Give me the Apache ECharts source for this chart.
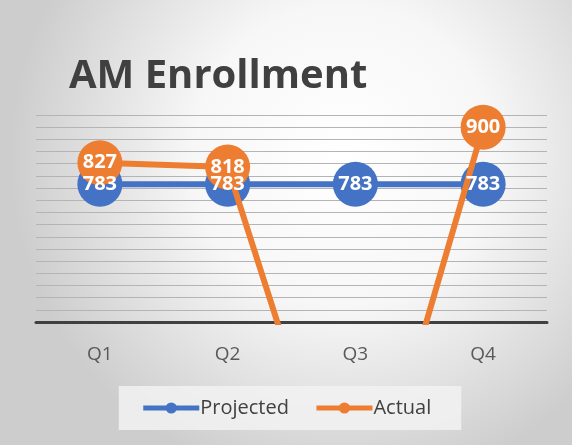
<!DOCTYPE html>
<html>
<head>
<meta charset="utf-8">
<script src="https://cdn.jsdelivr.net/npm/echarts@6/dist/echarts.min.js"></script>
<style>
  html, body { margin: 0; padding: 0; }
  #main { width: 572px; height: 445px; }
</style>
</head>
<body>
<div id="main"></div>
<script>
var categories = ['Q1', 'Q2', 'Q3', 'Q4'];
var projected = [783, 783, 783, 783];
var actual = [827, 818, 0, 900];
var yMin = 500, yMax = 925, yStep = 25;

var myChart = echarts.init(document.getElementById('main'));

// 背景：中心偏白，四周灰
var bg = new echarts.graphic.RadialGradient(0.6, 0.35, 0.75, [
  {offset: 0, color: '#ffffff'},
  {offset: 0.45, color: '#f7f7f7'},
  {offset: 1, color: '#cdcdcd'}
]);

var labelStyle = {
  show: true,
  position: 'inside',
  color: '#ffffff',
  fontFamily: 'Open Sans',
  fontWeight: 'bold',
  fontSize: 20
};

function lineSeries(name, data, color, z) {
  return {
    name: name,
    type: 'line',
    data: data,
    z: z,
    symbol: 'circle',
    symbolSize: 45,
    clip: true,
    itemStyle: {color: color},
    lineStyle: {color: color, width: 6},
    label: {show: false},
    emphasis: {disabled: true},
    animation: false
  };
}

// 只显示数值标签的透明系列，保证标签在所有圆点之上
function labelSeries(data, z) {
  return {
    type: 'line',
    data: data,
    z: z,
    symbol: 'circle',
    symbolSize: 45,
    clip: true,
    itemStyle: {color: 'rgba(0,0,0,0)'},
    lineStyle: {width: 0, opacity: 0},
    label: labelStyle,
    emphasis: {disabled: true},
    silent: true,
    animation: false
  };
}

var option = {
  backgroundColor: bg,
  title: {
    text: 'AM Enrollment',
    left: 64,
    top: 52,
    textStyle: {
      fontFamily: 'Open Sans',
      fontWeight: 'bold',
      fontSize: 40,
      color: '#404040'
    }
  },
  grid: {left: 36, right: 25, top: 115, bottom: 123},
  xAxis: {
    type: 'category',
    data: categories,
    axisLine: {lineStyle: {color: '#404040', width: 3}},
    axisTick: {show: false},
    axisLabel: {color: '#595959', fontSize: 19, fontFamily: 'Open Sans', margin: 23}
  },
  yAxis: {
    type: 'value',
    min: yMin,
    max: yMax,
    interval: yStep,
    axisLine: {show: false},
    axisTick: {show: false},
    axisLabel: {show: false},
    splitLine: {lineStyle: {color: '#b4b4b4', width: 1}}
  },
  legend: {
    bottom: 15,
    left: 'center',
    itemWidth: 56,
    itemHeight: 14,
    itemGap: 25,
    padding: [12, 30, 12, 22],
    backgroundColor: 'rgba(242,242,242,0.85)',
    lineStyle: {width: 5},
    textStyle: {color: '#404040', fontSize: 20, fontFamily: 'Open Sans', padding: [0, 0, 0, -4]},
    data: ['Projected', 'Actual']
  },
  series: [
    lineSeries('Projected', projected, '#4472c4', 2),
    lineSeries('Actual', actual, '#ed7d31', 3),
    labelSeries(projected, 4),
    labelSeries(actual, 4)
  ]
};
myChart.setOption(option, true);
</script>
</body>
</html>
